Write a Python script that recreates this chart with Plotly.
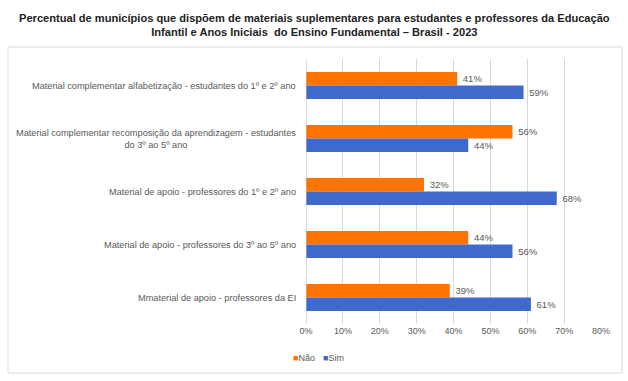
import plotly.graph_objects as go

title_text = ("Percentual de municípios que dispõem de materiais suplementares para estudantes e professores da Educação"
              "<br>Infantil e Anos Iniciais  do Ensino Fundamental – Brasil - 2023")

categories = [
    "Material complementar alfabetização - estudantes do 1º e 2º ano",
    "Material complementar recomposição da aprendizagem - estudantes<br>do 3º ao 5º ano",
    "Material de apoio - professores do 1º e 2º ano",
    "Material de apoio - professores do 3º ao 5º ano",
    "Mmaterial de apoio - professores da EI",
]
nao_values = [41, 56, 32, 44, 39]
sim_values = [59, 44, 68, 56, 61]
series_names = ["Não", "Sim"]
x_ticks = [0, 10, 20, 30, 40, 50, 60, 70, 80]

W, H = 628, 381
ML, MR, MT, MB = 306, 27, 59, 57
PW, PH = W - ML - MR, H - MT - MB

def px_x(x):
    return (x - ML) / PW

def px_y(y):
    return (H - MB - y) / PH

FONT = "Liberation Sans, Arial, sans-serif"
GRAY = "#595959"
ORANGE = "#FF7300"
BLUE = "#3F69CD"
colors = [ORANGE, BLUE]

fig = go.Figure()
for name, vals, col in zip(series_names, [nao_values, sim_values], colors):
    fig.add_trace(go.Bar(
        y=list(range(len(categories))), x=vals, name=name, orientation="h",
        marker=dict(color=col, line=dict(width=0)),
        text=[f"\u00a0{v}%" for v in vals], textposition="outside",
        textfont=dict(size=9.5, color=GRAY, family=FONT), cliponaxis=False,
        showlegend=False,
    ))

annotations = []
for i, c in enumerate(categories):
    annotations.append(dict(
        x=0, xref="paper", y=i, yref="y", text=c, showarrow=False,
        xanchor="right", yanchor="middle", align="center", xshift=-8,
        font=dict(size=9.2, color=GRAY, family=FONT),
    ))

# title as a centered annotation
annotations.append(dict(
    x=px_x(W / 2), xref="paper", y=px_y(25), yref="paper", text=title_text,
    showarrow=False, xanchor="center", yanchor="middle", align="center",
    font=dict(size=11.1, color="#222222", family=FONT, weight="bold"),
))

# legend (manual, compact like the reference)
legend_x = [291, 321]
for name, col, lx in zip(series_names, colors, legend_x):
    annotations.append(dict(
        x=px_x(lx), xref="paper", y=px_y(358), yref="paper",
        text=f'<span style="color:{col}">■</span>{name}', showarrow=False,
        xanchor="left", yanchor="middle",
        font=dict(size=9, color=GRAY, family=FONT),
    ))

fig.update_layout(
    width=W, height=H,
    margin=dict(l=ML, r=MR, t=MT, b=MB),
    paper_bgcolor="white", plot_bgcolor="white",
    barmode="group", bargap=0.49, bargroupgap=0,
    font=dict(family=FONT, color=GRAY),
    xaxis=dict(range=[0, 80], tickvals=x_ticks, ticktext=[f"{t}%" for t in x_ticks],
               showgrid=True, gridcolor="#D9D9D9", gridwidth=1, zeroline=False,
               showline=False, ticks="", ticklen=0,
               tickfont=dict(size=9, color=GRAY, family=FONT)),
    yaxis=dict(range=[len(categories) - 0.5, -0.5], showticklabels=False, showgrid=False,
               zeroline=False, showline=False, ticks=""),
    showlegend=False,
    annotations=annotations,
    shapes=[
        dict(type="rect", xref="paper", yref="paper", x0=px_x(8), x1=px_x(622),
             y0=px_y(373), y1=px_y(47), line=dict(color="#D9D9D9", width=1), layer="below"),
        dict(type="line", xref="x", yref="paper", x0=0, x1=0, y0=0, y1=1,
             line=dict(color="#BFBFBF", width=1)),
    ],
)

fig.write_html("out.html", config={"displayModeBar": False},
               post_script="document.body.style.margin='0';document.body.style.padding='0';")
